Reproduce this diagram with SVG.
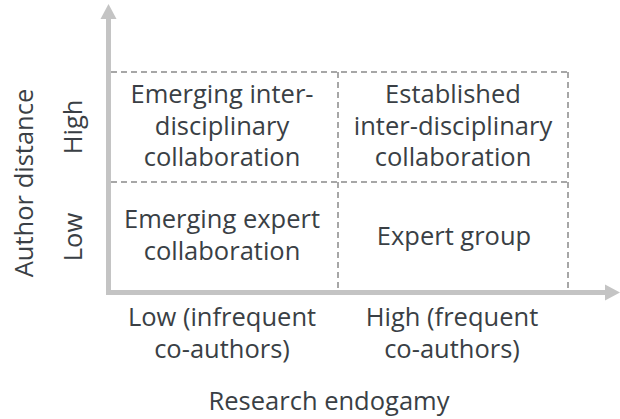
<svg xmlns="http://www.w3.org/2000/svg" width="620" height="419" viewBox="0 0 620 419">
<style>
text{font-family:"Open Sans","Noto Sans","DejaVu Sans",sans-serif;font-size:25.5px;fill:#3a3f45;text-anchor:middle}
.grid{stroke:#8a8a8a;stroke-width:1.5;stroke-dasharray:6 4;fill:none}
.axis{stroke:#c4c4c4;stroke-width:5;fill:none}
.head{fill:#c4c4c4}
</style>
<rect width="620" height="419" fill="#fff"/>
<g id="grid">
<line class="grid" x1="111" y1="72" x2="568" y2="72"/>
<line class="grid" x1="111" y1="182" x2="568" y2="182"/>
<line class="grid" x1="338" y1="72" x2="338" y2="290"/>
<line class="grid" x1="568" y1="72" x2="568" y2="290"/>
</g>
<g id="connectors">
<polyline class="axis" points="108.5,17 108.5,292.5 606,292.5"/>
<polygon class="head" points="108.5,4 100.5,19 116.5,19"/>
<polygon class="head" points="620,292.5 605,284.5 605,300.5"/>
</g>
<g id="cell-hl">
<text x="222" y="103">Emerging inter-</text>
<text x="222" y="135">disciplinary</text>
<text x="222" y="166">collaboration</text>
</g>
<g id="cell-hh">
<text x="453" y="103">Established</text>
<text x="453" y="135">inter-disciplinary</text>
<text x="453" y="166">collaboration</text>
</g>
<g id="cell-ll">
<text x="222" y="228">Emerging expert</text>
<text x="222" y="260">collaboration</text>
</g>
<g id="cell-lh">
<text x="454" y="245">Expert group</text>
</g>
<g id="y-labels">
<text transform="translate(33,183) rotate(-90)">Author distance</text>
<text transform="translate(82,127) rotate(-90)">High</text>
<text transform="translate(82,237) rotate(-90)">Low</text>
</g>
<g id="x-labels">
<text x="222" y="326">Low (infrequent</text>
<text x="222" y="358">co-authors)</text>
<text x="452" y="326">High (frequent</text>
<text x="452" y="358">co-authors)</text>
<text x="329" y="410">Research endogamy</text>
</g>
</svg>
